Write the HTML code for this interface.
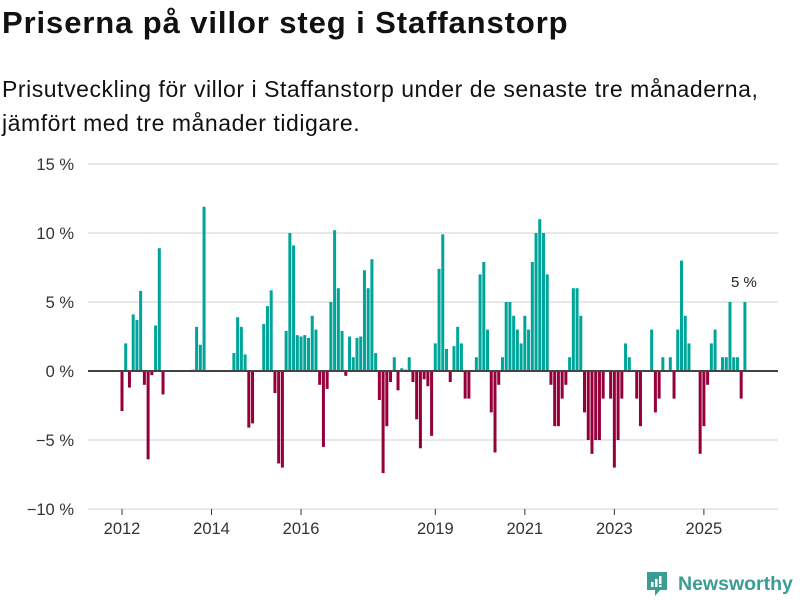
<!DOCTYPE html>
<html><head><meta charset="utf-8">
<style>
body{margin:0;background:#fff;width:800px;height:600px;overflow:hidden;font-family:"Liberation Sans",sans-serif;color:#111}
#title{position:absolute;left:2px;top:5px;font-size:31px;font-weight:bold;margin:0;letter-spacing:0.9px}
#sub{position:absolute;left:2px;top:72px;font-size:23px;line-height:34px;width:798px;letter-spacing:0.55px;white-space:nowrap}
svg{position:absolute;left:0;top:0}
</style></head><body>
<h1 id="title">Priserna på villor steg i Staffanstorp</h1>
<div id="sub">Prisutveckling för villor i Staffanstorp under de senaste tre månaderna,<br>jämfört med tre månader tidigare.</div>
<svg id="chart" width="800" height="600"></svg>
<script>
const startYear = 2012;
const values = [
-2.9,2.0,-1.2,4.1,3.7,5.8,-1.0,-6.4,-0.3,3.3,8.9,-1.7,
0,0,0,0,0,0,0,0.1,3.2,1.9,11.9,0,
0,0,0,0,0,0,1.3,3.9,3.2,1.2,-4.1,-3.8,
0,0,3.4,4.7,5.85,-1.6,-6.7,-7.0,2.9,10.0,9.1,2.6,
2.5,2.6,2.4,4.0,3.0,-1.0,-5.5,-1.3,5.0,10.2,6.0,2.9,
-0.35,2.5,1.0,2.4,2.5,7.3,6.0,8.1,1.3,-2.1,-7.4,-4.0,
-0.8,1.0,-1.4,0.2,0.1,1.0,-0.8,-3.5,-5.6,-0.6,-1.1,-4.7,
2.0,7.4,9.9,1.6,-0.8,1.8,3.2,2.0,-2.0,-2.0,0,1.0,
7.0,7.9,3.0,-3.0,-5.9,-1.0,1.0,5.0,5.0,4.0,3.0,2.0,
4.0,3.0,7.9,10.0,11.0,10.0,7.0,-1.0,-4.0,-4.0,-2.0,-1.0,
1.0,6.0,6.0,4.0,-3.0,-5.0,-6.0,-5.0,-5.0,-2.0,0,-2.0,
-7.0,-5.0,-2.0,2.0,1.0,0,-2.0,-4.0,0,0,3.0,-3.0,
-2.0,1.0,0,1.0,-2.0,3.0,8.0,4.0,2.0,0,0,-6.0,
-4.0,-1.0,2.0,3.0,0,1.0,1.0,5.0,1.0,1.0,-2.0,5.0];
const yTicks = [15,10,5,0,-5,-10];
const xTickYears = [2012,2014,2016,2019,2021,2023,2025];
const lastLabel = "5 %";

const NS="http://www.w3.org/2000/svg";
const svg=document.getElementById('chart');
const y0=371, pxPer=13.8, x0=122, pxMonth=3.73;
const yS=v=>y0-v*pxPer;
const xS=m=>x0+m*pxMonth;
function mk(t,a){const e=document.createElementNS(NS,t);for(const k in a)e.setAttribute(k,a[k]);svg.appendChild(e);return e;}
yTicks.forEach(t=>{
  if(t!==0){const g=mk('line',{x1:88,x2:778,y1:yS(t),y2:yS(t),stroke:'#e0e0e0','stroke-width':1.5});
  
  }
  const l=mk('text',{x:74,y:yS(t)+6,'text-anchor':'end','font-size':16.5,fill:'#333'});
  l.textContent=(t<0?'−'+(-t):t)+' %';
  
  
});
values.forEach((v,m)=>{
  if(v===0)return;
  const top=Math.min(yS(v),y0), h=Math.abs(yS(v)-y0);
  const r=mk('rect',{x:xS(m)-1.5,y:top,width:3,height:h,fill:v>0?'#00a59a':'#95003b'});
  
  
});
const z=mk('line',{x1:88,x2:778,y1:y0,y2:y0,stroke:'#444','stroke-width':2});


xTickYears.forEach(yr=>{
  const x=xS((yr-startYear)*12);
  const tk=mk('line',{x1:x,x2:x,y1:509,y2:515,stroke:'#333','stroke-width':1});
  
  
  const l=mk('text',{x:x,y:534,'text-anchor':'middle','font-size':16.5,fill:'#333'});
  l.textContent=yr;
  
  
});
const lm=values.length-1;
const ll=mk('text',{x:xS(lm)-1,y:yS(values[lm])-15,'text-anchor':'middle','font-size':15,fill:'#222'});
ll.textContent=lastLabel;


</script>
<div style="position:absolute;left:645px;top:570px;display:flex;align-items:center">
<svg width="24" height="28" style="position:static"><path d="M2 2h20v18h-7l-5 6v-6H2z" fill="#3a9d94"/><rect x="6" y="12" width="2.5" height="5" fill="#fff"/><rect x="10" y="9" width="2.5" height="8" fill="#fff"/><rect x="14" y="6" width="2.5" height="8" fill="#fff"/><rect x="14" y="15" width="2.5" height="2" fill="#fff"/></svg>
<span style="margin-left:9px;font-size:19.5px;font-weight:bold;color:#3a9d94">Newsworthy</span></div>
</body></html>
